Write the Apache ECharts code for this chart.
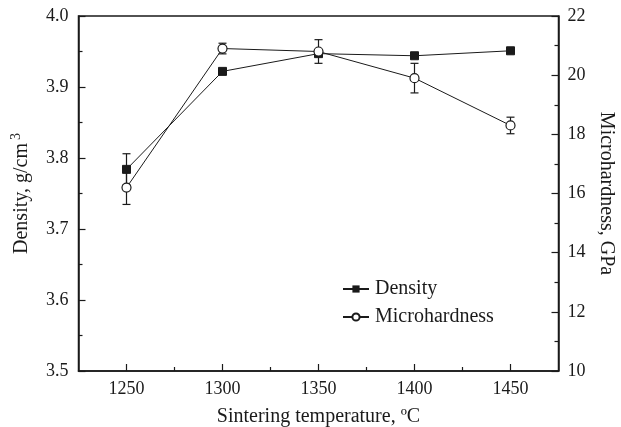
<!DOCTYPE html>
<html>
<head>
<meta charset="utf-8">
<script src="https://cdn.jsdelivr.net/npm/echarts@6/dist/echarts.min.js"></script>
<style>
  html, body { margin: 0; padding: 0; background: #fff; }
  #chart { width: 621px; height: 427px; }
</style>
</head>
<body>
<div id="chart"></div>
<script>
// data
const temps = [1250, 1300, 1350, 1400, 1450];
const density = [3.784, 3.922, 3.947, 3.944, 3.951];
const densityErr = [0.022, 0, 0, 0, 0];
const hardness = [16.2, 20.9, 20.8, 19.9, 18.3];
const hardnessErr = [0.57, 0.18, 0.4, 0.5, 0.28];

const majorX = [1250, 1300, 1350, 1400, 1450];
const minorX = [1275, 1325, 1375, 1425];

const font = 'Liberation Serif';
const ink = '#1a1a1a';

// error bar data: [x, low, high]
function errData(vals, errs) {
  const out = [];
  vals.forEach((v, i) => {
    if (errs[i] > 0) out.push([temps[i], v - errs[i], v + errs[i]]);
  });
  return out;
}

function renderErr(params, api) {
  const x = api.value(0);
  const lo = api.coord([x, api.value(1)]);
  const hi = api.coord([x, api.value(2)]);
  const w = 4;
  const style = { stroke: ink, lineWidth: 1.2 };
  return {
    type: 'group',
    children: [
      { type: 'line', shape: { x1: lo[0], y1: lo[1], x2: hi[0], y2: hi[1] }, style },
      { type: 'line', shape: { x1: lo[0] - w, y1: lo[1], x2: lo[0] + w, y2: lo[1] }, style },
      { type: 'line', shape: { x1: hi[0] - w, y1: hi[1], x2: hi[0] + w, y2: hi[1] }, style }
    ]
  };
}

const chart = echarts.init(document.getElementById('chart'));

const option = {
  animation: false,
  grid: {
    left: 78.5, right: 62.5, top: 16, bottom: 56,
    outerBoundsMode: 'none', containLabel: false,
    show: true, borderColor: ink, borderWidth: 1.5
  },
  legend: {
    orient: 'vertical',
    left: 337, top: 274,
    itemWidth: 26, itemHeight: 9, itemGap: 8,
    data: ['Density', 'Microhardness'],
    textStyle: { fontFamily: font, fontSize: 20, color: ink, padding: [0, 0, 0, 1] }
  },
  xAxis: [
    {
      type: 'value',
      min: 1225, max: 1475,
      name: 'Sintering temperature, ºC',
      nameLocation: 'middle', nameGap: 36,
      nameTextStyle: { fontFamily: font, fontSize: 20, color: ink },
      axisLine: { lineStyle: { color: ink, width: 1.5 } },
      axisTick: { inside: true, length: 7, customValues: majorX, lineStyle: { color: ink, width: 1.2 } },
      axisLabel: { customValues: majorX, fontFamily: font, fontSize: 18, color: ink, margin: 9, formatter: v => String(v) },
      splitLine: { show: false }
    },
    {
      type: 'value',
      min: 1225, max: 1475,
      position: 'bottom',
      axisLine: { show: false },
      axisTick: { inside: true, length: 4, customValues: minorX, lineStyle: { color: ink, width: 1.2 } },
      axisLabel: { show: false },
      splitLine: { show: false }
    }
  ],
  yAxis: [
    {
      type: 'value',
      min: 3.5, max: 4.0, interval: 0.1,
      name: '{t|Density, g/cm}{s|3}',
      nameLocation: 'middle', nameGap: 45, nameRotate: 90,
      nameTextStyle: {
        rich: {
          t: { fontFamily: font, fontSize: 20, color: ink },
          s: { fontFamily: font, fontSize: 14, color: ink, verticalAlign: 'top', padding: [0, 0, 10, 3] }
        }
      },
      axisLine: { show: true, lineStyle: { color: ink, width: 1.5 } },
      axisTick: { inside: true, length: 7, lineStyle: { color: ink, width: 1.2 } },
      minorTick: { show: true, splitNumber: 2, length: 4, lineStyle: { color: ink, width: 1.2 } },
      axisLabel: { fontFamily: font, fontSize: 18, color: ink, margin: 10, formatter: v => v.toFixed(1) },
      splitLine: { show: false }
    },
    {
      type: 'value',
      min: 10, max: 22, interval: 2,
      position: 'right',
      name: 'Microhardness, GPa',
      nameLocation: 'middle', nameGap: 38, nameRotate: -90,
      nameTextStyle: { fontFamily: font, fontSize: 20, color: ink },
      axisLine: { show: true, lineStyle: { color: ink, width: 1.5 } },
      axisTick: { inside: true, length: 7, lineStyle: { color: ink, width: 1.2 } },
      minorTick: { show: true, splitNumber: 2, length: 4, lineStyle: { color: ink, width: 1.2 } },
      axisLabel: { fontFamily: font, fontSize: 18, color: ink, margin: 9 },
      splitLine: { show: false }
    }
  ],
  series: [
    {
      type: 'custom',
      yAxisIndex: 0,
      renderItem: renderErr,
      data: errData(density, densityErr),
      z: 1, silent: true
    },
    {
      type: 'custom',
      yAxisIndex: 1,
      renderItem: renderErr,
      data: errData(hardness, hardnessErr),
      z: 1, silent: true
    },
    {
      name: 'Density',
      type: 'line',
      yAxisIndex: 0,
      data: temps.map((t, i) => [t, density[i]]),
      symbol: 'rect', symbolSize: 8,
      lineStyle: { color: ink, width: 1 },
      itemStyle: { color: ink, borderColor: ink },
      z: 3
    },
    {
      name: 'Microhardness',
      type: 'line',
      yAxisIndex: 1,
      data: temps.map((t, i) => [t, hardness[i]]),
      symbol: 'circle', symbolSize: 9,
      lineStyle: { color: ink, width: 1 },
      itemStyle: { color: '#fff', borderColor: ink, borderWidth: 1.2 },
      z: 4
    }
  ]
};

chart.setOption(option);
</script>
</body>
</html>
